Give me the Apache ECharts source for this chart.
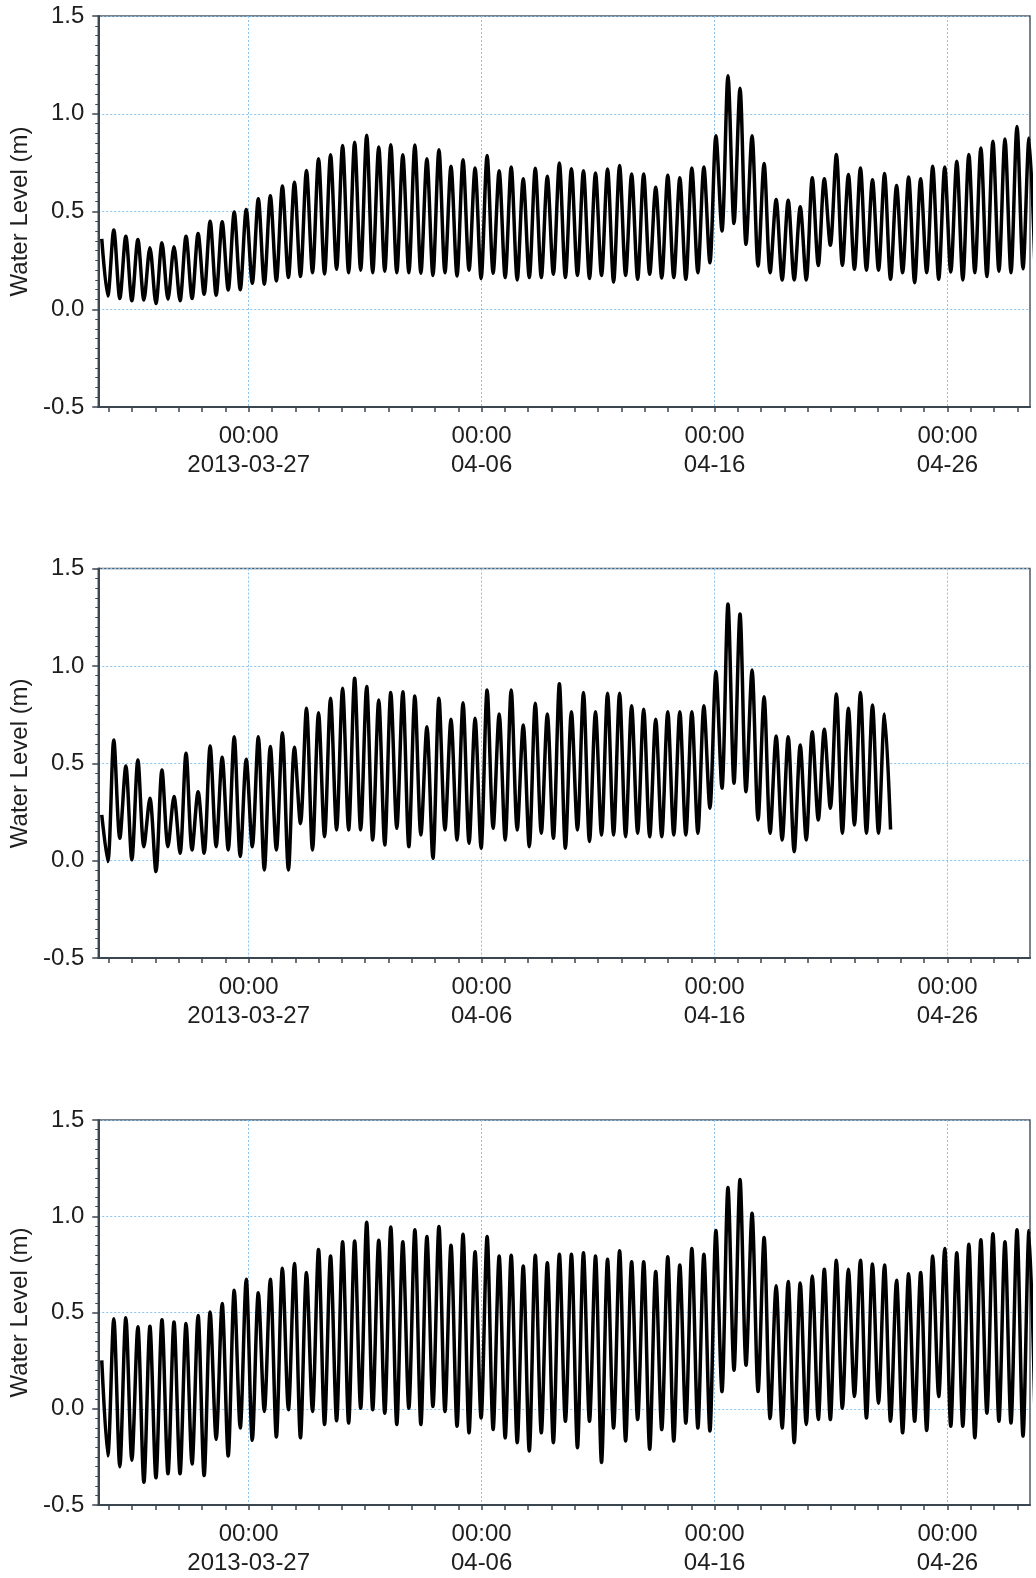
<!DOCTYPE html>
<html><head><meta charset="utf-8">
<script src="https://cdn.jsdelivr.net/npm/echarts@6/dist/echarts.min.js"></script>
<style>html,body{margin:0;padding:0;background:#fff;overflow:hidden}#c{width:1036px;height:1578px}</style>
</head><body><div id="c"></div>
<script>
// x values are days relative to 2013-03-27 00:00
const xMin = -6.458, xMax = 33.542;
const xTickDays = [-6,-5,-4,-3,-2,-1,0,1,2,3,4,5,6,7,8,9,10,11,12,13,14,15,16,17,18,19,20,21,22,23,24,25,26,27,28,29,30,31,32,33];
const xLabelDays = [0, 10, 20, 30];
const xTickLabels = ['00:00\n2013-03-27', '00:00\n04-06', '00:00\n04-16', '00:00\n04-26'];
const yTicks = [-0.5, 0.0, 0.5, 1.0, 1.5];
const yName = 'Water Level (m)';
// sampling of successive tidal extremes (high, low, high, ...)
const sampleStart = -6.308, sampleStep = 0.2585;

// Panel 1: highs (first value = series start) and lows
const highs1 = [0.36,
 0.405,0.374,0.357,0.315,0.34,0.32,0.374,0.388,0.45,0.447,
 0.497,0.51,0.565,0.58,0.63,0.65,0.71,0.77,0.79,0.837,
 0.854,0.89,0.83,0.842,0.79,0.84,
 0.77,0.816,0.731,0.765,0.723,0.786,0.709,0.728,0.668,0.721,
 0.68,0.748,0.719,0.709,0.697,0.718,0.735,0.692,0.692,0.624,
 0.685,0.672,0.723,0.728,0.888,
 1.194,1.131,0.888,0.745,0.561,0.558,0.524,0.672,0.668,0.791,
 0.689,0.723,0.663,0.694,0.633,0.677,0.667,0.731,0.728,0.757,
 0.791,0.825,0.859,0.871,0.935,0.876];
const lows1 = [
 0.068,0.055,0.043,0.047,0.029,0.051,0.043,0.055,0.077,0.072,
 0.099,0.10,0.133,0.128,0.145,0.162,0.167,0.187,0.18,0.204,
 0.187,0.2,0.187,0.195,0.187,0.187,0.184,0.173,0.187,0.17,
 0.2,0.157,0.184,0.162,0.15,0.162,0.162,0.179,0.162,0.173,
 0.157,0.173,0.139,0.173,0.153,0.179,0.16,0.162,0.153,0.187,
 0.238,0.40,0.439,0.332,0.221,0.187,0.15,0.15,0.15,0.224,
 0.327,0.224,0.204,0.2,0.2,0.153,0.187,0.136,0.187,0.153,
 0.19,0.15,0.187,0.167,0.195,0.187,0.207,0.2];

// Panel 2
const highs2 = [0.235,
 0.62,0.486,0.517,0.32,0.466,0.329,0.552,0.354,0.589,0.531,
 0.637,0.521,0.637,0.586,0.657,0.582,0.783,0.76,0.834,0.885,
 0.937,0.894,0.825,0.863,0.868,0.846,
 0.688,0.834,0.726,0.811,0.731,0.877,0.753,0.877,0.697,0.808,
 0.753,0.908,0.765,0.863,0.765,0.86,0.86,0.795,0.778,0.726,
 0.765,0.765,0.765,0.795,0.971,
 1.318,1.267,0.979,0.842,0.64,0.637,0.594,0.662,0.675,0.856,
 0.783,0.863,0.80,0.753];
const lows2 = [
 -0.005,0.115,0.004,0.072,-0.056,0.072,0.038,0.055,0.038,0.072,
 0.055,0.021,0.072,-0.048,0.055,-0.048,0.19,0.055,0.123,0.158,
 0.158,0.158,0.106,0.081,0.166,0.072,
 0.132,0.012,0.158,0.106,0.089,0.064,0.166,0.106,0.158,0.072,
 0.141,0.115,0.064,0.158,0.098,0.132,0.132,0.123,0.141,0.123,
 0.123,0.132,0.132,0.141,0.269,
 0.372,0.398,0.354,0.209,0.141,0.106,0.046,0.106,0.209,0.269,
 0.141,0.183,0.141,0.141,0.16];

// Panel 3
const highs3 = [0.251,
 0.468,0.473,0.426,0.428,0.462,0.451,0.443,0.485,0.503,0.547,
 0.615,0.673,0.602,0.673,0.73,0.755,0.708,0.827,0.793,0.867,
 0.872,0.969,0.875,0.944,0.867,0.93,
 0.895,0.947,0.849,0.906,0.815,0.895,0.793,0.798,0.742,0.798,
 0.759,0.803,0.803,0.81,0.793,0.776,0.821,0.764,0.764,0.713,
 0.79,0.747,0.832,0.803,0.926,
 1.149,1.191,1.015,0.889,0.639,0.661,0.653,0.69,0.725,0.772,
 0.725,0.772,0.752,0.747,0.667,0.701,0.708,0.793,0.832,0.81,
 0.854,0.878,0.909,0.867,0.93,0.926];
const lows3 = [
 -0.245,-0.301,-0.267,-0.382,-0.359,-0.338,-0.338,-0.287,-0.347,-0.159,
 -0.245,-0.1,-0.164,-0.014,-0.147,-0.005,-0.151,-0.014,-0.082,-0.062,
 -0.074,0.003,-0.005,-0.023,-0.082,0.003,
 -0.082,0.012,-0.014,-0.091,-0.125,-0.048,-0.108,-0.151,-0.176,-0.219,
 -0.125,-0.176,-0.065,-0.202,-0.065,-0.279,-0.1,-0.168,-0.056,-0.21,
 -0.108,-0.168,-0.074,-0.1,-0.116,
 0.089,0.2,0.226,0.089,-0.051,-0.1,-0.176,-0.082,-0.056,-0.056,
 0.003,0.063,-0.048,0.029,-0.065,-0.125,-0.065,-0.113,0.063,-0.091,
 -0.091,-0.151,-0.023,-0.065,-0.074,-0.142,-0.05];

function buildSeries(highs, lows) {
  const out = [];
  const n = Math.max(highs.length, lows.length);
  let i = 0;
  for (let k = 0; k < n; k++) {
    if (k < highs.length) { out.push([sampleStart + i * sampleStep, highs[k]]); i++; }
    if (k < lows.length) { out.push([sampleStart + i * sampleStep, lows[k]]); i++; }
  }
  return out;
}
const panels = [buildSeries(highs1, lows1), buildSeries(highs2, lows2), buildSeries(highs3, lows3)];

const FONT = '"Liberation Sans", Arial, Helvetica, sans-serif';
const gridTops = [16, 568.6, 1120];
const gridHeights = [391, 389.4, 390];
const AX = '#3a4650';

const grids = [], xAxes = [], yAxes = [], series = [];
panels.forEach((data, i) => {
  grids.push({left: 98, width: 932, top: gridTops[i], height: gridHeights[i],
    show: true, borderColor: '#4a5866', borderWidth: 1.5, backgroundColor: 'transparent'});
  xAxes.push({
    gridIndex: i, type: 'value', min: xMin, max: xMax, position: 'bottom',
    axisLine: {show: true, onZero: false, lineStyle: {color: AX, width: 2}},
    axisTick: {show: true, customValues: xTickDays, length: 5, inside: false, lineStyle: {color: AX, width: 1.5}},
    axisLabel: {show: true, customValues: xLabelDays, fontSize: 24, color: '#1e1e1e', fontFamily: FONT,
      lineHeight: 29, margin: 15,
      formatter: v => { const j = xLabelDays.indexOf(Math.round(v)); return j >= 0 ? xTickLabels[j] : ''; }},
    splitLine: {show: false}
  });
  xAxes.push({
    gridIndex: i, type: 'value', min: xMin, max: xMax, position: 'top',
    axisLine: {show: false, onZero: false}, axisLabel: {show: false},
    axisTick: {show: false, customValues: xLabelDays},
    splitLine: {show: true, lineStyle: {color: '#8cc4f0', width: 1, type: [2, 2]}}
  });
  yAxes.push({
    gridIndex: i, type: 'value', min: yTicks[0], max: yTicks[yTicks.length - 1], interval: 0.5,
    position: 'left',
    name: yName, nameLocation: 'middle', nameGap: 62,
    nameTextStyle: {fontSize: 24, color: '#1e1e1e', fontFamily: FONT},
    axisLine: {show: true, onZero: false, lineStyle: {color: AX, width: 2}},
    axisTick: {show: true, length: 6, inside: false, lineStyle: {color: AX, width: 1.5}},
    minorTick: {show: true, splitNumber: 10, length: 3, lineStyle: {color: AX, width: 1}},
    axisLabel: {fontSize: 24, color: '#1e1e1e', fontFamily: FONT, margin: 14, formatter: v => v.toFixed(1)},
    splitLine: {show: true, lineStyle: {color: '#8cc4f0', width: 1, type: [2, 2]}}
  });
  series.push({
    type: 'line', xAxisIndex: 2 * i, yAxisIndex: i, data: data,
    showSymbol: false, smooth: 0.3, clip: true,
    lineStyle: {color: '#000', width: 3.5}
  });
});

const chart = echarts.init(document.getElementById('c'), null, {renderer: 'canvas'});
chart.setOption({animation: false, backgroundColor: '#fff', grid: grids, xAxis: xAxes, yAxis: yAxes, series: series});
</script></body></html>
